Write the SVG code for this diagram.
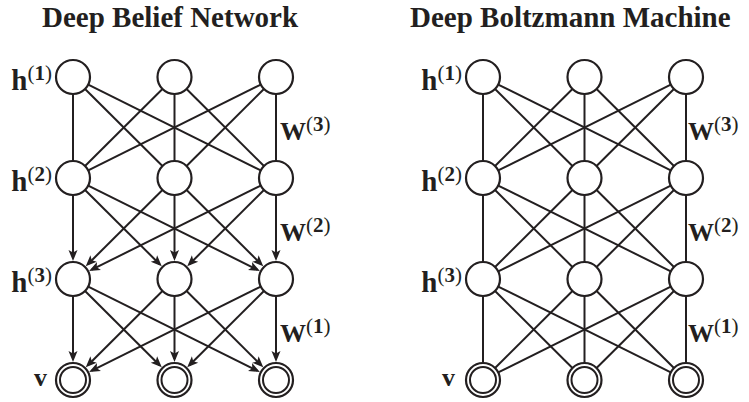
<svg xmlns="http://www.w3.org/2000/svg" width="749" height="402" viewBox="0 0 749 402">
<style>
.title{font-family:"Liberation Serif","Times New Roman",serif;font-weight:bold;font-size:29px;fill:#231f20}
.lbl{font-family:"Liberation Serif","Times New Roman",serif;font-weight:bold;font-size:26px;fill:#231f20}
.hl{font-size:29px}
.sup{font-size:21px}
.par{font-weight:normal}
.edge{stroke:#231f20;stroke-width:2;fill:none}
.arr{stroke:#231f20;stroke-width:2;fill:none;marker-end:url(#ah)}
.node{fill:#fff;stroke:#231f20;stroke-width:2.2}
.inner{fill:none;stroke:#231f20;stroke-width:2}
</style>
<defs>
<marker id="ah" markerUnits="userSpaceOnUse" markerWidth="14" markerHeight="12" viewBox="0 -6 12 12" refX="8" refY="0" orient="auto">
<path d="M0,-4.5 L11,0 L0,4.5 L2.5,0 z" fill="#231f20"/>
</marker>
</defs>
<rect width="749" height="402" fill="#fff"/>
<text class="title" x="42" y="27">Deep Belief Network</text>
<text class="title" x="410" y="27">Deep Boltzmann Machine</text>

<g id="connectors">
<g id="dbn-h1-h2">
<line class="edge" x1="73" y1="94" x2="73" y2="161"/>
<line class="edge" x1="85.05" y1="88.99" x2="162.45" y2="166.01"/>
<line class="edge" x1="88.22" y1="84.57" x2="260.78" y2="170.43"/>
<line class="edge" x1="162.45" y1="88.99" x2="85.05" y2="166.01"/>
<line class="edge" x1="174.5" y1="94" x2="174.5" y2="161"/>
<line class="edge" x1="186.55" y1="88.99" x2="263.95" y2="166.01"/>
<line class="edge" x1="260.78" y1="84.57" x2="88.22" y2="170.43"/>
<line class="edge" x1="263.95" y1="88.99" x2="186.55" y2="166.01"/>
<line class="edge" x1="276" y1="94" x2="276" y2="161"/>
</g>
<g id="dbn-h2-h3">
<line class="arr" x1="73" y1="195" x2="73" y2="258"/>
<line class="arr" x1="85.05" y1="189.99" x2="159.62" y2="264.19"/>
<line class="arr" x1="88.22" y1="185.57" x2="257.2" y2="269.65"/>
<line class="arr" x1="162.45" y1="189.99" x2="87.88" y2="264.19"/>
<line class="arr" x1="174.5" y1="195" x2="174.5" y2="258"/>
<line class="arr" x1="186.55" y1="189.99" x2="261.12" y2="264.19"/>
<line class="arr" x1="260.78" y1="185.57" x2="91.8" y2="269.65"/>
<line class="arr" x1="263.95" y1="189.99" x2="189.38" y2="264.19"/>
<line class="arr" x1="276" y1="195" x2="276" y2="258"/>
</g>
<g id="dbn-h3-v">
<line class="arr" x1="73" y1="296" x2="73" y2="359"/>
<line class="arr" x1="85.05" y1="290.99" x2="159.62" y2="365.19"/>
<line class="arr" x1="88.22" y1="286.57" x2="257.2" y2="370.65"/>
<line class="arr" x1="162.45" y1="290.99" x2="87.88" y2="365.19"/>
<line class="arr" x1="174.5" y1="296" x2="174.5" y2="359"/>
<line class="arr" x1="186.55" y1="290.99" x2="261.12" y2="365.19"/>
<line class="arr" x1="260.78" y1="286.57" x2="91.8" y2="370.65"/>
<line class="arr" x1="263.95" y1="290.99" x2="189.38" y2="365.19"/>
<line class="arr" x1="276" y1="296" x2="276" y2="359"/>
</g>
<g id="dbm-h1-h2" transform="translate(410,0)">
<line class="edge" x1="73" y1="94" x2="73" y2="161"/>
<line class="edge" x1="85.05" y1="88.99" x2="162.45" y2="166.01"/>
<line class="edge" x1="88.22" y1="84.57" x2="260.78" y2="170.43"/>
<line class="edge" x1="162.45" y1="88.99" x2="85.05" y2="166.01"/>
<line class="edge" x1="174.5" y1="94" x2="174.5" y2="161"/>
<line class="edge" x1="186.55" y1="88.99" x2="263.95" y2="166.01"/>
<line class="edge" x1="260.78" y1="84.57" x2="88.22" y2="170.43"/>
<line class="edge" x1="263.95" y1="88.99" x2="186.55" y2="166.01"/>
<line class="edge" x1="276" y1="94" x2="276" y2="161"/>
</g>
<g id="dbm-h2-h3" transform="translate(410,101)">
<line class="edge" x1="73" y1="94" x2="73" y2="161"/>
<line class="edge" x1="85.05" y1="88.99" x2="162.45" y2="166.01"/>
<line class="edge" x1="88.22" y1="84.57" x2="260.78" y2="170.43"/>
<line class="edge" x1="162.45" y1="88.99" x2="85.05" y2="166.01"/>
<line class="edge" x1="174.5" y1="94" x2="174.5" y2="161"/>
<line class="edge" x1="186.55" y1="88.99" x2="263.95" y2="166.01"/>
<line class="edge" x1="260.78" y1="84.57" x2="88.22" y2="170.43"/>
<line class="edge" x1="263.95" y1="88.99" x2="186.55" y2="166.01"/>
<line class="edge" x1="276" y1="94" x2="276" y2="161"/>
</g>
<g id="dbm-h3-v" transform="translate(410,202)">
<line class="edge" x1="73" y1="94" x2="73" y2="161"/>
<line class="edge" x1="85.05" y1="88.99" x2="162.45" y2="166.01"/>
<line class="edge" x1="88.22" y1="84.57" x2="260.78" y2="170.43"/>
<line class="edge" x1="162.45" y1="88.99" x2="85.05" y2="166.01"/>
<line class="edge" x1="174.5" y1="94" x2="174.5" y2="161"/>
<line class="edge" x1="186.55" y1="88.99" x2="263.95" y2="166.01"/>
<line class="edge" x1="260.78" y1="84.57" x2="88.22" y2="170.43"/>
<line class="edge" x1="263.95" y1="88.99" x2="186.55" y2="166.01"/>
<line class="edge" x1="276" y1="94" x2="276" y2="161"/>
</g>
</g>

<g id="dbn-h1-1"><circle class="node" cx="73" cy="77" r="17"/></g>
<g id="dbn-h1-2"><circle class="node" cx="174.5" cy="77" r="17"/></g>
<g id="dbn-h1-3"><circle class="node" cx="276" cy="77" r="17"/></g>
<g id="dbn-h2-1"><circle class="node" cx="73" cy="178" r="17"/></g>
<g id="dbn-h2-2"><circle class="node" cx="174.5" cy="178" r="17"/></g>
<g id="dbn-h2-3"><circle class="node" cx="276" cy="178" r="17"/></g>
<g id="dbn-h3-1"><circle class="node" cx="73" cy="279" r="17"/></g>
<g id="dbn-h3-2"><circle class="node" cx="174.5" cy="279" r="17"/></g>
<g id="dbn-h3-3"><circle class="node" cx="276" cy="279" r="17"/></g>
<g id="dbn-v-1"><circle class="node" cx="73" cy="380" r="17"/><circle class="inner" cx="73" cy="380" r="13"/></g>
<g id="dbn-v-2"><circle class="node" cx="174.5" cy="380" r="17"/><circle class="inner" cx="174.5" cy="380" r="13"/></g>
<g id="dbn-v-3"><circle class="node" cx="276" cy="380" r="17"/><circle class="inner" cx="276" cy="380" r="13"/></g>

<g id="dbm-h1-1"><circle class="node" cx="483" cy="77" r="17"/></g>
<g id="dbm-h1-2"><circle class="node" cx="584.5" cy="77" r="17"/></g>
<g id="dbm-h1-3"><circle class="node" cx="686" cy="77" r="17"/></g>
<g id="dbm-h2-1"><circle class="node" cx="483" cy="178" r="17"/></g>
<g id="dbm-h2-2"><circle class="node" cx="584.5" cy="178" r="17"/></g>
<g id="dbm-h2-3"><circle class="node" cx="686" cy="178" r="17"/></g>
<g id="dbm-h3-1"><circle class="node" cx="483" cy="279" r="17"/></g>
<g id="dbm-h3-2"><circle class="node" cx="584.5" cy="279" r="17"/></g>
<g id="dbm-h3-3"><circle class="node" cx="686" cy="279" r="17"/></g>
<g id="dbm-v-1"><circle class="node" cx="483" cy="380" r="17"/><circle class="inner" cx="483" cy="380" r="13"/></g>
<g id="dbm-v-2"><circle class="node" cx="584.5" cy="380" r="17"/><circle class="inner" cx="584.5" cy="380" r="13"/></g>
<g id="dbm-v-3"><circle class="node" cx="686" cy="380" r="17"/><circle class="inner" cx="686" cy="380" r="13"/></g>

<g id="labels">
<text class="lbl hl" x="52" y="90" text-anchor="end">h<tspan class="sup par" dy="-10">(</tspan><tspan class="sup">1</tspan><tspan class="sup par">)</tspan></text>
<text class="lbl hl" x="52" y="191" text-anchor="end">h<tspan class="sup par" dy="-10">(</tspan><tspan class="sup">2</tspan><tspan class="sup par">)</tspan></text>
<text class="lbl hl" x="52" y="292" text-anchor="end">h<tspan class="sup par" dy="-10">(</tspan><tspan class="sup">3</tspan><tspan class="sup par">)</tspan></text>
<text class="lbl" x="47" y="386" text-anchor="end">v</text>
<text class="lbl" x="280" y="140">W<tspan class="sup par" dy="-9">(</tspan><tspan class="sup">3</tspan><tspan class="sup par">)</tspan></text>
<text class="lbl" x="280" y="241">W<tspan class="sup par" dy="-9">(</tspan><tspan class="sup">2</tspan><tspan class="sup par">)</tspan></text>
<text class="lbl" x="280" y="342">W<tspan class="sup par" dy="-9">(</tspan><tspan class="sup">1</tspan><tspan class="sup par">)</tspan></text>
<text class="lbl hl" x="462" y="90" text-anchor="end">h<tspan class="sup par" dy="-10">(</tspan><tspan class="sup">1</tspan><tspan class="sup par">)</tspan></text>
<text class="lbl hl" x="462" y="191" text-anchor="end">h<tspan class="sup par" dy="-10">(</tspan><tspan class="sup">2</tspan><tspan class="sup par">)</tspan></text>
<text class="lbl hl" x="462" y="292" text-anchor="end">h<tspan class="sup par" dy="-10">(</tspan><tspan class="sup">3</tspan><tspan class="sup par">)</tspan></text>
<text class="lbl" x="455" y="386" text-anchor="end">v</text>
<text class="lbl" x="688" y="140">W<tspan class="sup par" dy="-9">(</tspan><tspan class="sup">3</tspan><tspan class="sup par">)</tspan></text>
<text class="lbl" x="688" y="241">W<tspan class="sup par" dy="-9">(</tspan><tspan class="sup">2</tspan><tspan class="sup par">)</tspan></text>
<text class="lbl" x="688" y="342">W<tspan class="sup par" dy="-9">(</tspan><tspan class="sup">1</tspan><tspan class="sup par">)</tspan></text>
</g>
</svg>
